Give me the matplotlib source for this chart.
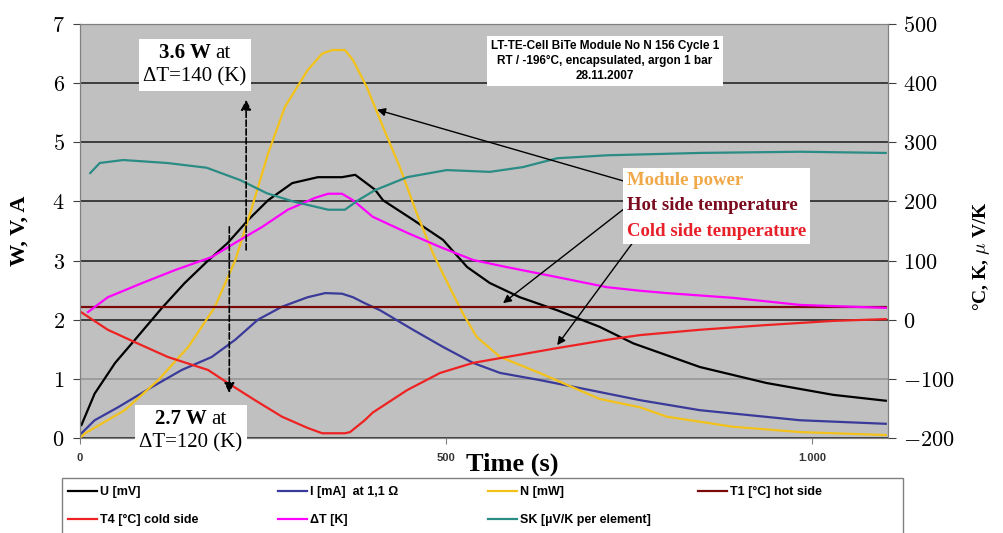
import matplotlib
matplotlib.use('Agg')
import matplotlib.pyplot as plt
from matplotlib.patches import Rectangle
from matplotlib.offsetbox import TextArea, HPacker, VPacker, AnnotationBbox

plt.rcParams['mathtext.fontset'] = 'cm'

# U [mV] (left axis)
t_u = [2, 20, 48, 75, 112, 143, 175, 202, 230, 257, 290, 325, 358, 376, 403, 414,
       455, 496, 529, 560, 601, 652, 710, 756, 847, 938, 1029, 1101]
u = [0.22, 0.75, 1.27, 1.66, 2.2, 2.62, 3.0, 3.3, 3.69, 4.02, 4.31, 4.41, 4.41, 4.45,
     4.2, 4.02, 3.69, 3.35, 2.89, 2.62, 2.38, 2.16, 1.88, 1.6, 1.2, 0.93, 0.73, 0.63]

# I [mA] at 1,1 Ohm (left axis)
t_i = [2, 20, 52, 98, 139, 180, 212, 243, 276, 311, 335, 358, 373, 389, 410, 455,
       496, 537, 574, 628, 697, 765, 847, 984, 1101]
i_ma = [0.08, 0.3, 0.52, 0.86, 1.15, 1.37, 1.66, 2.0, 2.22, 2.38, 2.45, 2.44, 2.38,
        2.28, 2.16, 1.83, 1.54, 1.27, 1.1, 0.98, 0.81, 0.64, 0.47, 0.30, 0.24]

# N [mW] (left axis)
t_n = [0, 7, 61, 107, 148, 184, 212, 235, 257, 280, 311, 331, 345, 362, 373, 392,
       414, 437, 460, 482, 505, 523, 542, 574, 628, 710, 765, 802, 892, 984, 1101]
n_mw = [0, 0.08, 0.47, 0.98, 1.54, 2.21, 3.0, 3.9, 4.81, 5.6, 6.22, 6.5, 6.56, 6.56,
        6.39, 5.93, 5.26, 4.58, 3.8, 3.13, 2.55, 2.11, 1.71, 1.37, 1.1, 0.66, 0.52,
        0.36, 0.19, 0.10, 0.05]

# T1 hot side (right axis)
t_t1 = [0, 550, 1101]
t1 = [22, 22, 22]

# T4 cold side (right axis)
t_t4 = [0, 38, 75, 120, 175, 202, 239, 276, 311, 331, 362, 369, 389, 400, 447, 492,
        537, 583, 652, 720, 765, 847, 938, 1029, 1101]
t4 = [14, -17, -38, -63, -85, -107, -136, -164, -183, -192, -192, -190, -170, -157,
      -119, -90, -73, -63, -48, -34, -26, -17, -9, -2, 1]

# Delta T (right axis)
t_dt = [11, 38, 85, 130, 180, 212, 249, 284, 321, 339, 358, 373, 400, 447, 492, 537,
        583, 652, 720, 765, 802, 892, 984, 1101]
dt = [13, 38, 62, 84, 106, 130, 157, 186, 206, 213, 213, 202, 174, 147, 123, 101,
      89, 72, 55, 49, 45, 37, 25, 20]

# SK per element (right axis)
t_sk = [14, 27, 59, 119, 173, 219, 255, 291, 339, 362, 380, 403, 447, 501, 560, 605,
        652, 720, 847, 984, 1101]
sk = [248, 265, 270, 265, 257, 236, 214, 200, 186, 186, 202, 219, 241, 253, 250, 258,
      273, 278, 282, 284, 282]

left_ticks = [0, 1, 2, 3, 4, 5, 6, 7]
right_ticks = [-200, -100, 0, 100, 200, 300, 400, 500]
x_ticks = [0, 500, 1000]
x_labels = ['0', '500', '1.000']

W, H = 1004, 533
fig = plt.figure(figsize=(W / 100, H / 100), dpi=100)
ax = fig.add_axes([80 / W, 1 - 438 / H, 808 / W, 414 / H])
ax.set_facecolor('#C0C0C0')
ax.set_xlim(0, 1104)
ax.set_ylim(0, 7)
ax2 = ax.twinx()
ax2.set_ylim(-200, 500)

ax.set_axisbelow(True)
ax.yaxis.grid(True, color='#333333', lw=1.3)
ax.get_ygridlines()[1].set_color('#9a9a9a')

lw = 1.6
l_u, = ax.plot(t_u, u, color='black', lw=lw, label='U [mV]')
l_i, = ax.plot(t_i, i_ma, color='#3A3A9A', lw=lw, label='I [mA]  at 1,1 Ω')
l_n, = ax.plot(t_n, n_mw, color='#F2C21A', lw=lw, label='N [mW]')
l_t1, = ax2.plot(t_t1, t1, color='#7A0A0A', lw=lw, label='T1 [°C] hot side')
l_t4, = ax2.plot(t_t4, t4, color='#EE2222', lw=lw, label='T4 [°C] cold side')
l_dt, = ax2.plot(t_dt, dt, color='#FF00FF', lw=lw, label='ΔT [K]')
l_sk, = ax2.plot(t_sk, sk, color='#2A8C84', lw=lw, label='SK [µV/K per element]')

for s in ax.spines.values():
    s.set_color('#808080')
for s in ax2.spines.values():
    s.set_color('#808080')

ax.set_yticks(left_ticks)
ax.set_yticklabels(['$%d$' % v for v in left_ticks])
ax2.set_yticks(right_ticks)
ax2.set_yticklabels(['$%d$' % v for v in right_ticks])
ax.tick_params(axis='y', direction='out', length=5, color='#404040', labelsize=16, pad=6)
ax2.tick_params(axis='y', direction='out', length=6, color='#404040', labelsize=16, pad=5)
ax.set_xticks(x_ticks)
ax.set_xticklabels(x_labels, fontsize=8, fontweight='bold', color='#333333',
                   family='Liberation Sans')
ax.tick_params(axis='x', direction='out', length=4, color='#808080', pad=7)

serif = 'Liberation Serif'
ax.set_ylabel('W, V, A', fontsize=16, fontweight='bold', family=serif)
ax.yaxis.set_label_coords(-0.062, 0.5)
ax2.set_ylabel(r'°C, K, $\mu$ V/K', fontsize=14, fontweight='bold', family=serif,
               rotation=90)
ax2.yaxis.set_label_coords(1.103, 0.44)
ax.set_xlabel('Time (s)', fontsize=19, fontweight='bold', family=serif)
ax.xaxis.set_label_coords(0.535, -0.036)


def fig_xy(px, py):
    return (px / W, 1 - py / H)


def power_box(bold, line2, px, py):
    top = HPacker(children=[
        TextArea(bold, textprops=dict(fontsize=15, fontweight='bold', family=serif)),
        TextArea('at', textprops=dict(fontsize=15, family=serif))],
        pad=0, sep=3, align='baseline')
    bottom = TextArea(line2, textprops=dict(fontsize=15, family=serif))
    box = VPacker(children=[top, bottom], align='center', pad=0, sep=3)
    ab = AnnotationBbox(box, fig_xy(px, py), xycoords='figure fraction', pad=0.5,
                        frameon=True, annotation_clip=False,
                        bboxprops=dict(fc='white', ec='none', boxstyle='square'))
    fig.add_artist(ab)


power_box('3.6 W', 'ΔT=140 (K)', 195, 65)
power_box('2.7 W', 'ΔT=120 (K)', 191, 431)

fig.text(605 / W, 1 - 61 / H,
         'LT-TE-Cell BiTe Module No N 156 Cycle 1\n'
         'RT / -196°C, encapsulated, argon 1 bar\n28.11.2007',
         ha='center', va='center', fontsize=8.5, fontweight='bold',
         family='Liberation Sans', linespacing=1.35,
         bbox=dict(fc='white', ec='none', boxstyle='square,pad=0.35'))

names = ['Module power', 'Hot side temperature', 'Cold side temperature']
name_colors = ['#F0A848', '#7B0A1F', '#E8202A']
rows = [TextArea(nm, textprops=dict(fontsize=13.5, fontweight='bold', family=serif,
                                    color=c)) for nm, c in zip(names, name_colors)]
lab_box = VPacker(children=rows, align='left', pad=0, sep=6)
ab = AnnotationBbox(lab_box, fig_xy(627, 206), xycoords='figure fraction',
                    box_alignment=(0, 0.5), pad=0.7, frameon=True,
                    bboxprops=dict(fc='white', ec='none', boxstyle='square'))
fig.add_artist(ab)

arrow = dict(arrowstyle='-|>', color='black', lw=1, mutation_scale=12,
             shrinkA=0, shrinkB=0)
ax2.annotate('', xy=(406, 5.55), xytext=(747, 4.33), xycoords=ax.transData,
             textcoords=ax.transData, arrowprops=arrow)
ax2.annotate('', xy=(578, 2.28), xytext=(747, 3.91), xycoords=ax.transData,
             textcoords=ax.transData, arrowprops=arrow)
ax2.annotate('', xy=(652, 1.57), xytext=(758, 3.35), xycoords=ax.transData,
             textcoords=ax.transData, arrowprops=arrow)

dashed = dict(arrowstyle='-|>', color='black', lw=1.2, ls='--', mutation_scale=15,
              shrinkA=0, shrinkB=0)
ax2.annotate('', xy=(227, 5.72), xytext=(227, 3.18), xycoords=ax.transData,
             textcoords=ax.transData, arrowprops=dashed)
ax2.annotate('', xy=(204, 0.76), xytext=(204, 3.57), xycoords=ax.transData,
             textcoords=ax.transData, arrowprops=dashed)

# legend in fixed-width columns like the spreadsheet original
columns = [[l_u, l_t4], [l_i, l_dt], [l_n, l_sk], [l_t1]]
col_x = [68, 278, 488, 698]
prop = {'family': 'Liberation Sans', 'weight': 'bold', 'size': 9}
for handles, cx in zip(columns, col_x):
    leg = fig.legend(handles=handles, loc='upper left', bbox_to_anchor=fig_xy(cx, 486),
                     frameon=False, prop=prop, handlelength=2.3, handletextpad=0.3,
                     labelspacing=1.3, borderpad=0, borderaxespad=0)
fig.add_artist(Rectangle((62 / W, -0.05), (903 - 62) / W, 0.05 + (1 - 478 / H),
                         transform=fig.transFigure, fill=False, ec='#808080', lw=1))

fig.savefig('out.png', dpi=100, facecolor='white')
